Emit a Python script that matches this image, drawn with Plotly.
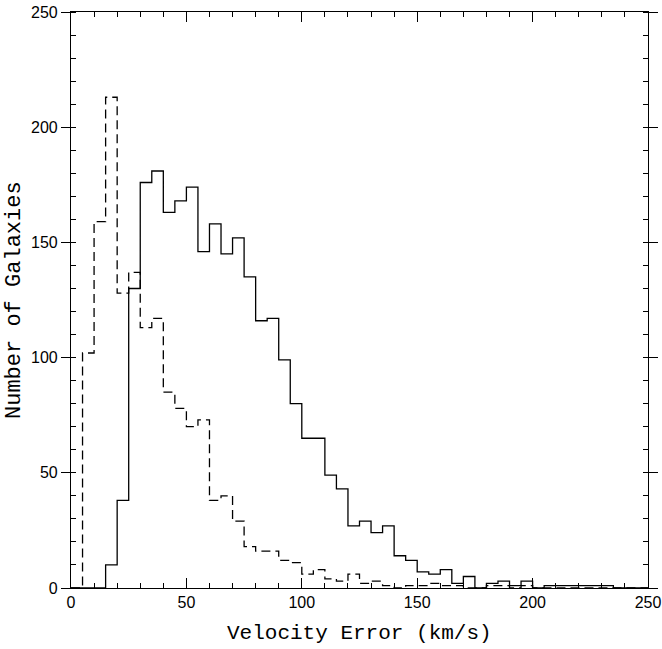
import plotly.graph_objects as go

bin_width = 5
bin_starts = list(range(0, 250, bin_width))

solid_counts = [0, 0, 0, 10, 38, 130, 176, 181, 163, 168,
                174, 146, 158, 145, 152, 135, 116, 117, 99, 80,
                65, 65, 49, 43, 27, 29, 24, 27, 14, 12,
                7, 6, 8, 2, 5, 0, 2, 3, 1, 3,
                0, 1, 1, 1, 1, 1, 1, 0, 0, 0]

dashed_counts = [0, 102, 159, 213, 128, 137, 113, 117, 85, 78,
                 70, 73, 38, 40, 29, 18, 16, 16, 12, 11,
                 6, 8, 4, 3, 6, 2, 3, 1, 0, 1,
                 1, 2, 1, 1, 0, 0, 1, 1, 0, 1,
                 0, 0, 0, 0, 0, 0, 0, 0, 0, 0]

x_ticks = [0, 50, 100, 150, 200, 250]
y_ticks = [0, 50, 100, 150, 200, 250]

x_edges = bin_starts + [bin_starts[-1] + bin_width]


def step(counts):
    return counts + [counts[-1]]


fig = go.Figure()
fig.add_trace(go.Scatter(x=x_edges, y=step(dashed_counts), mode="lines",
                         line=dict(shape="hv", color="black", width=1.3, dash="9px,5px"),
                         showlegend=False, hoverinfo="skip"))
fig.add_trace(go.Scatter(x=x_edges, y=step(solid_counts), mode="lines",
                         line=dict(shape="hv", color="black", width=1.3),
                         showlegend=False, hoverinfo="skip"))

axis_common = dict(showgrid=False, zeroline=False, showline=True, linecolor="black",
                   linewidth=1.2, mirror="ticks", tickcolor="black", automargin=False,
                   ticklabeloverflow="allow",
                   tickfont=dict(family="Liberation Sans", size=16, color="black"))

fig.update_xaxes(range=[0, 250], tickvals=x_ticks, ticks="inside", ticklen=10, tickwidth=1,
                 minor=dict(dtick=10, ticks="inside", ticklen=5, tickcolor="black", tickwidth=1),
                 **axis_common)
fig.update_yaxes(range=[0, 250], tickvals=y_ticks, ticks="outside", ticklen=9, tickwidth=1,
                 minor=dict(dtick=10, ticks="inside", ticklen=5, tickcolor="black", tickwidth=1),
                 **axis_common)

fig.add_annotation(text="Velocity Error (km/s)", xref="paper", yref="paper",
                   x=0.5, y=0, yshift=-45, xanchor="center", yanchor="middle",
                   showarrow=False,
                   font=dict(family="Liberation Mono", size=21, color="black"))
fig.add_annotation(text="Number of Galaxies", xref="paper", yref="paper",
                   x=0, y=0.5, xshift=-57, xanchor="center", yanchor="middle",
                   textangle=-90, showarrow=False,
                   font=dict(family="Liberation Mono", size=22, color="black"))

fig.update_layout(width=662, height=649, margin=dict(l=71, r=14, t=12, b=61),
                  plot_bgcolor="white", paper_bgcolor="white")

fig.write_html("out.html", config={"displayModeBar": False},
               post_script="document.body.style.margin='0';document.body.style.overflow='hidden';")
